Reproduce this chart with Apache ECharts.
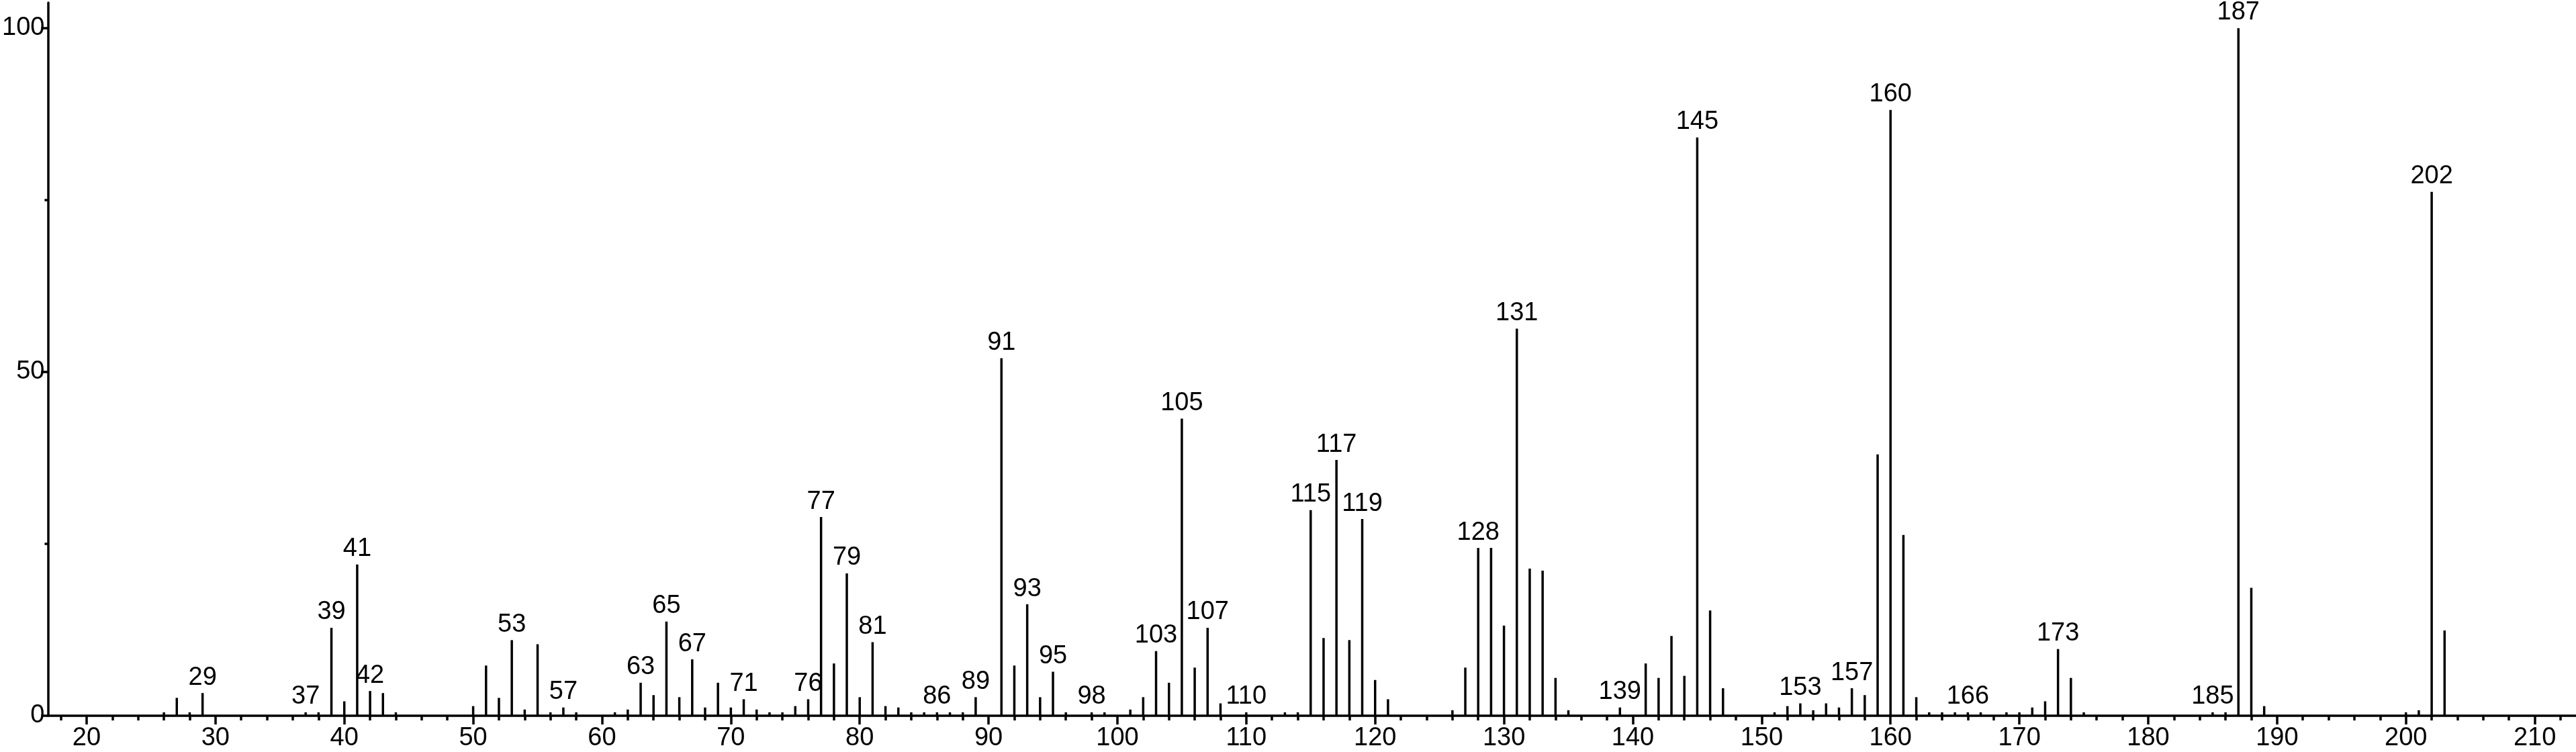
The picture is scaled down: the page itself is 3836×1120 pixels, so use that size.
<!DOCTYPE html>
<html>
<head>
<meta charset="utf-8">
<title>Mass spectrum</title>
<script src="https://cdn.jsdelivr.net/npm/echarts/dist/echarts.min.js"></script>
<style>
  html, body { margin: 0; padding: 0; background: #fff; }
  #chart { width: 3836px; height: 1120px; }
</style>
</head>
<body>
<div id="chart"></div>
<script>
// m/z values and relative intensities (%)
const masses = [
  26, 27, 28, 29, 37, 38, 39, 40, 41, 42, 43, 44,
  50, 51, 52, 53, 54, 55, 56, 57, 58, 61, 62, 63, 64, 65, 66, 67, 68, 69,
  70, 71, 72, 73, 74, 75, 76, 77, 78, 79, 80, 81, 82, 83, 84, 85, 86, 87, 88, 89,
  91, 92, 93, 94, 95, 96, 98, 99, 101, 102, 103, 104, 105, 106, 107, 108, 110,
  113, 114, 115, 116, 117, 118, 119, 120, 121, 126, 127, 128, 129, 130, 131, 132, 133, 134, 135,
  139, 141, 142, 143, 144, 145, 146, 147, 151, 152, 153, 154, 155, 156, 157, 158, 159,
  160, 161, 162, 163, 164, 165, 166, 167, 169, 170, 171, 172, 173, 174, 175,
  185, 186, 187, 188, 189, 200, 201, 202, 203
]
const intensities = [
  0.5, 2.6, 0.5, 3.3, 0.5, 0.5, 12.8, 2.1, 22.0, 3.6, 3.3, 0.5,
  1.4, 7.3, 2.6, 11.0, 0.9, 10.4, 0.5, 1.2, 0.5, 0.5, 0.9, 4.8, 3.0, 13.7, 2.7, 8.2, 1.2, 4.8,
  1.2, 2.4, 0.9, 0.5, 0.5, 1.4, 2.4, 28.9, 7.6, 20.7, 2.7, 10.7, 1.4, 1.2, 0.5, 0.5, 0.5, 0.5, 0.5, 2.7,
  52.0, 7.3, 16.2, 2.7, 6.4, 0.5, 0.5, 0.5, 0.9, 2.7, 9.4, 4.8, 43.2, 7.0, 12.8, 1.8, 0.5,
  0.5, 0.5, 29.9, 11.3, 37.2, 11.0, 28.6, 5.2, 2.4, 0.8, 7.0, 24.4, 24.4, 13.1, 56.3, 21.4, 21.1, 5.5, 0.8,
  1.2, 7.6, 5.5, 11.6, 5.8, 84.1, 15.3, 4.0, 0.5, 1.4, 1.8, 0.8, 1.8, 1.2, 4.0, 3.0, 38.0,
  88.1, 26.3, 2.7, 0.5, 0.5, 0.5, 0.5, 0.5, 0.5, 0.5, 1.2, 2.1, 9.7, 5.5, 0.5,
  0.5, 0.5, 100, 18.6, 1.4, 0.5, 0.8, 76.2, 12.4
]
// peaks that carry their m/z as a label
const labeledMasses = [
  29, 37, 39, 41, 42, 53, 57, 63, 65, 67, 71, 76, 77, 79, 81, 86, 89, 91, 93, 95, 98,
  103, 105, 107, 110, 115, 117, 119, 128, 131, 139, 145, 153, 157, 160, 166, 173, 185, 187, 202
]
const xMajorTicks = [20, 30, 40, 50, 60, 70, 80, 90, 100, 110, 120, 130, 140, 150, 160, 170, 180, 190, 200, 210]
const xMinorTicks = []
for (let v = 18; v <= 212; v += 2) {
  if (v % 10 !== 0) xMinorTicks.push(v)
}
const yMajorTicks = [0, 50, 100]
const yMinorTicks = [25, 75]

const FONT = "'Liberation Sans Narrow', 'Liberation Sans', Arial, sans-serif"
const FONT_SIZE = 38
const X_MIN = 17
const X_MAX = 213.2
const Y_MAX = 103.7

let chart = echarts.init(document.getElementById('chart'), null, { renderer: 'canvas' })

let seriesData = masses.map((m, i) => {
  let item = { value: [m, intensities[i]] }
  if (labeledMasses.indexOf(m) >= 0) {
    item.label = { show: true }
  }
  return item
})

let axisLineStyle = { color: '#000', width: 3.5 }
let tickStyle = { color: '#000', width: 3.5 }

let option = {
  animation: false,
  backgroundColor: '#fff',
  grid: {
    left: 68,
    right: 0,
    top: 4,
    bottom: 54,
    containLabel: false,
  },
  xAxis: [
    {
      type: 'value',
      position: 'bottom',
      min: X_MIN,
      max: X_MAX,
      axisLine: { show: true, onZero: false, lineStyle: axisLineStyle },
      axisTick: { show: true, length: 13, customValues: xMajorTicks, lineStyle: tickStyle },
      axisLabel: {
        show: true,
        customValues: xMajorTicks,
        margin: 15,
        color: '#000',
        fontSize: FONT_SIZE,
        fontFamily: FONT,
      },
      splitLine: { show: false },
    },
    {
      type: 'value',
      position: 'bottom',
      min: X_MIN,
      max: X_MAX,
      axisLine: { show: false },
      axisTick: { show: true, length: 7, customValues: xMinorTicks, lineStyle: tickStyle },
      axisLabel: { show: false },
      splitLine: { show: false },
    },
  ],
  yAxis: [
    {
      type: 'value',
      position: 'left',
      min: 0,
      max: Y_MAX,
      axisLine: { show: true, lineStyle: axisLineStyle },
      axisTick: { show: true, length: 10, customValues: yMajorTicks, lineStyle: tickStyle },
      axisLabel: {
        show: true,
        customValues: yMajorTicks,
        margin: 5,
        color: '#000',
        fontSize: FONT_SIZE,
        fontFamily: FONT,
      },
      splitLine: { show: false },
    },
    {
      type: 'value',
      position: 'left',
      min: 0,
      max: Y_MAX,
      axisLine: { show: false },
      axisTick: { show: true, length: 5, customValues: yMinorTicks, lineStyle: tickStyle },
      axisLabel: { show: false },
      splitLine: { show: false },
    },
  ],
  series: [
    {
      type: 'bar',
      xAxisIndex: 0,
      yAxisIndex: 0,
      barWidth: 3.5,
      itemStyle: { color: '#000' },
      label: {
        show: false,
        position: 'top',
        distance: 4,
        color: '#000',
        fontSize: FONT_SIZE,
        fontFamily: FONT,
        formatter: (p) => String(p.value[0]),
      },
      data: seriesData,
    },
  ],
}

chart.setOption(option)
window.addEventListener('resize', () => {
  chart.resize()
})
</script>
</body>
</html>
